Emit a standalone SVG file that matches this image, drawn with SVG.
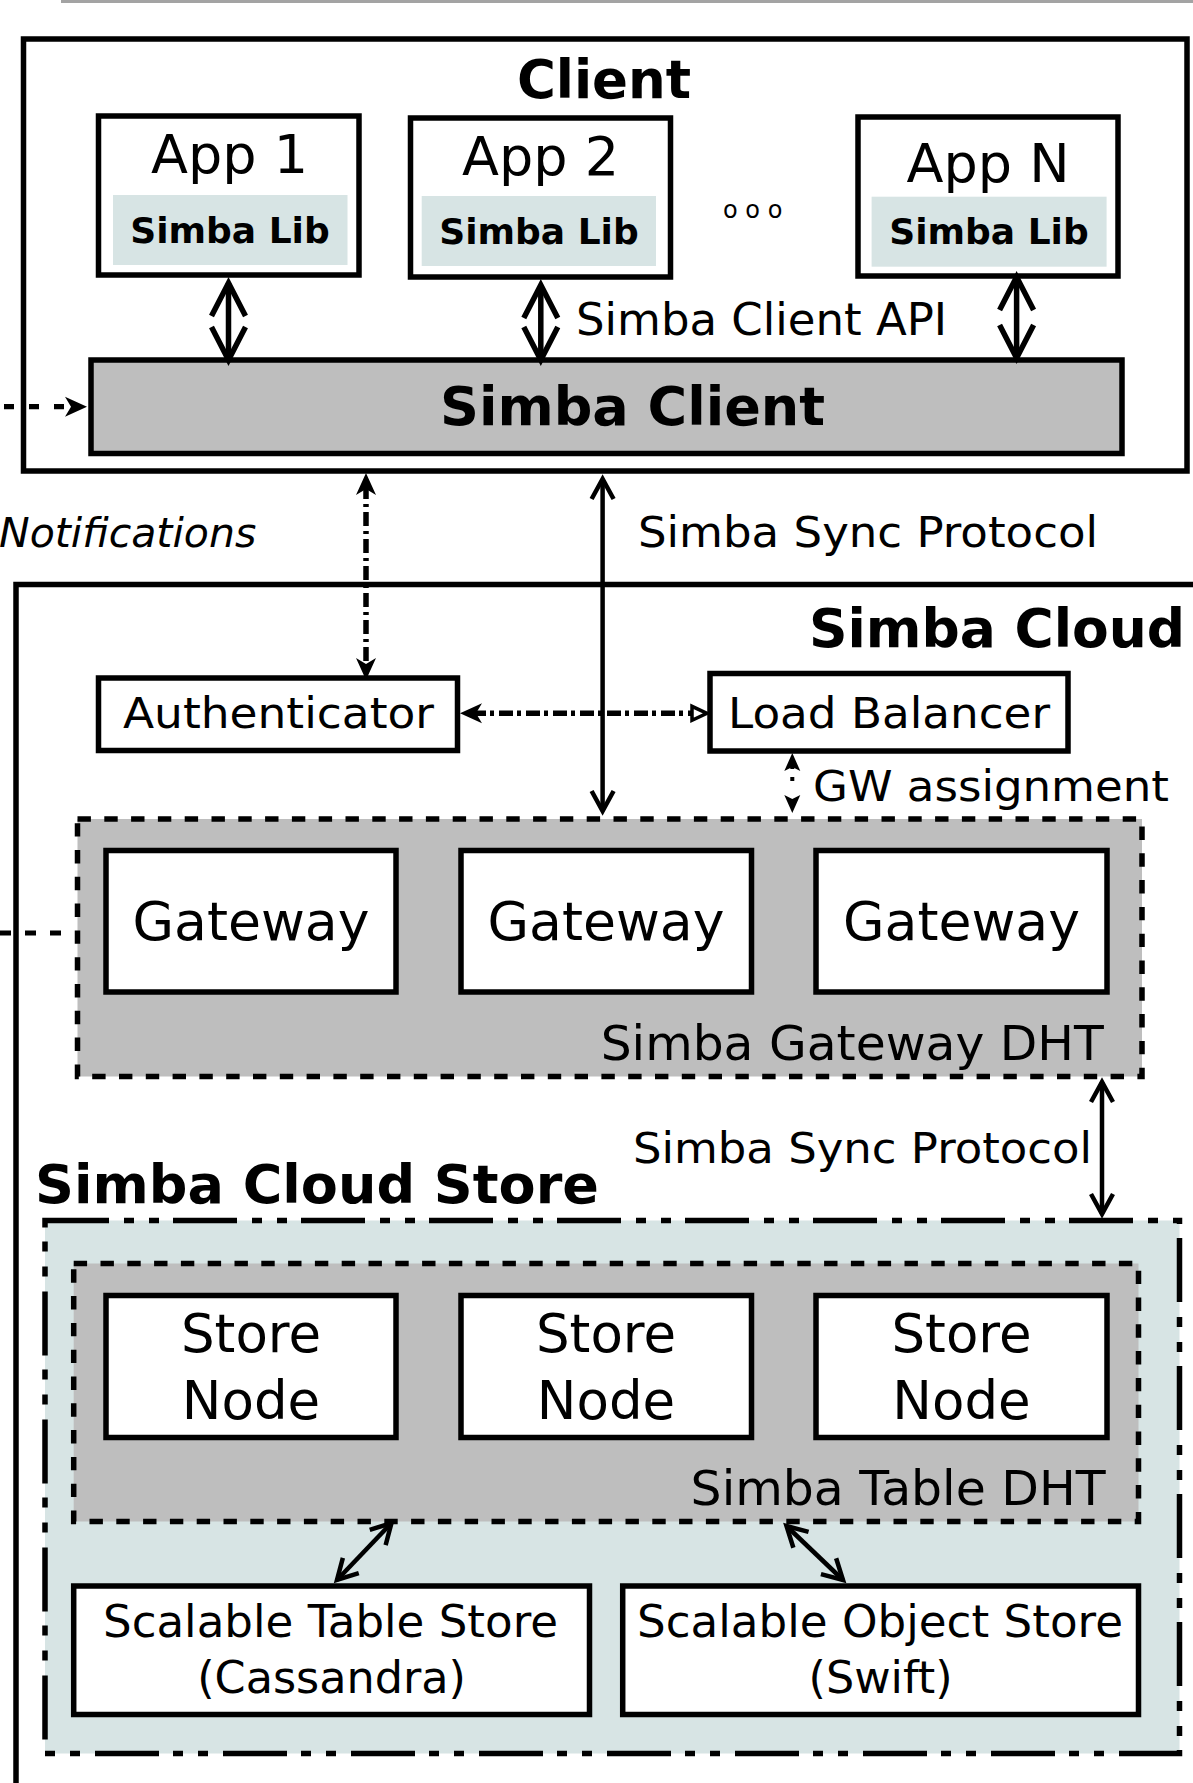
<svg xmlns="http://www.w3.org/2000/svg" width="1193" height="1783" viewBox="0 0 1193 1783">
<style>
.box{fill:#fff;stroke:#000;stroke-width:5.5}
.gbox{fill:#bebebe;stroke:#000;stroke-width:5.5}
.lib{fill:#d7e4e4}
.dht{fill:#bebebe;stroke:#000;stroke-width:5.5;stroke-dasharray:13.4,13.4}
.store{fill:#d7e4e4;stroke:#000;stroke-width:5.5;stroke-dasharray:64,15,10,15,10,14}
text{font-family:"DejaVu Sans","Liberation Sans",sans-serif;fill:#000}
.b{font-weight:bold}
.c{text-anchor:middle}
.ln{fill:none;stroke:#000}
</style>
<defs>
<marker id="chevL" markerUnits="userSpaceOnUse" orient="auto-start-reverse" overflow="visible" refX="0" refY="0" markerWidth="1" markerHeight="1">
<path d="M-33,-17 L0,0 L-33,17" fill="none" stroke="#000" stroke-width="5.5" stroke-dasharray="none"/>
</marker>
<marker id="chevS" markerUnits="userSpaceOnUse" orient="auto-start-reverse" overflow="visible" refX="0" refY="0" markerWidth="1" markerHeight="1">
<path d="M-20,-11 L0,0 L-20,11" fill="none" stroke="#000" stroke-width="4.5" stroke-dasharray="none"/>
</marker>
<marker id="arrF" markerUnits="userSpaceOnUse" orient="auto-start-reverse" overflow="visible" refX="0" refY="0" markerWidth="1" markerHeight="1">
<path d="M12,0 L-10,-10 L-4,0 L-10,10 Z" fill="#000" stroke="none"/>
</marker>
<marker id="arrO" markerUnits="userSpaceOnUse" orient="auto-start-reverse" overflow="visible" refX="0" refY="0" markerWidth="1" markerHeight="1">
<path d="M9,0 L-6,-7 L-6,7 Z" fill="#fff" stroke="#000" stroke-width="3.5" stroke-dasharray="none"/>
</marker>
<marker id="arrS" markerUnits="userSpaceOnUse" orient="auto-start-reverse" overflow="visible" refX="0" refY="0" markerWidth="1" markerHeight="1">
<path d="M9,0 L-9,-8 L-5,0 L-9,8 Z" fill="#000" stroke="none"/>
</marker>
</defs>
<rect x="0" y="0" width="1193" height="1783" fill="#fff"/>
<rect x="61" y="0" width="1132" height="3" fill="#a3a3a3"/>

<g id="client">
<rect class="box" x="23.5" y="39" width="1163.5" height="432"/>
<text class="b c" x="604" y="98" font-size="53">Client</text>
<text x="723" y="218" font-size="24">o o o</text>
</g>
<g id="app1">
<rect class="box" x="98.5" y="116" width="260.5" height="159"/>
<text class="c" x="229.6" y="173" font-size="54">App 1</text>
<rect class="lib" x="113" y="195" width="234.5" height="70"/>
<text class="b c" x="230" y="243" font-size="36">Simba Lib</text>
</g>
<g id="app2">
<rect class="box" x="410.5" y="118" width="260" height="159"/>
<text class="c" x="540.5" y="175" font-size="54">App 2</text>
<rect class="lib" x="421.7" y="196" width="234.3" height="70"/>
<text class="b c" x="539" y="243.5" font-size="36">Simba Lib</text>
</g>
<g id="appN">
<rect class="box" x="858" y="117" width="260" height="159"/>
<text class="c" x="988" y="182" font-size="54">App N</text>
<rect class="lib" x="871.6" y="196.7" width="235" height="70"/>
<text class="b c" x="989" y="243.5" font-size="36">Simba Lib</text>
</g>
<g id="simba-client">
<rect class="gbox" x="91" y="360" width="1031" height="93.5"/>
<text class="b" x="440" y="425" font-size="54">Simba Client</text>
</g>

<g id="simba-cloud">
<rect class="box" x="16" y="584.5" width="1300" height="1300"/>
<text class="b" x="809" y="647" font-size="53" textLength="376" lengthAdjust="spacingAndGlyphs">Simba Cloud</text>
</g>
<g id="authenticator">
<rect class="box" x="98.5" y="678" width="359" height="72.5"/>
<text class="c" x="278.5" y="728" font-size="43" textLength="311" lengthAdjust="spacingAndGlyphs">Authenticator</text>
</g>
<g id="load-balancer">
<rect class="box" x="710" y="673.5" width="358" height="77.5"/>
<text class="c" x="889" y="728" font-size="43" textLength="322" lengthAdjust="spacingAndGlyphs">Load Balancer</text>
</g>
<g id="gateway-dht">
<rect class="dht" x="77.5" y="819" width="1064.5" height="257.5"/>
<text x="600.7" y="1060" font-size="47.5" textLength="503" lengthAdjust="spacingAndGlyphs">Simba Gateway DHT</text>
</g>
<g id="gateway1">
<rect class="box" x="106" y="850.5" width="290" height="141.5"/>
<text class="c" x="251" y="940" font-size="53" textLength="237" lengthAdjust="spacingAndGlyphs">Gateway</text>
</g>
<g id="gateway2">
<rect class="box" x="461" y="850.5" width="290.5" height="141.5"/>
<text class="c" x="606" y="940" font-size="53" textLength="237" lengthAdjust="spacingAndGlyphs">Gateway</text>
</g>
<g id="gateway3">
<rect class="box" x="816" y="850.5" width="291" height="141.5"/>
<text class="c" x="961.5" y="940" font-size="53" textLength="237" lengthAdjust="spacingAndGlyphs">Gateway</text>
</g>

<g id="cloud-store">
<text class="b" x="35" y="1203" font-size="54" textLength="564" lengthAdjust="spacingAndGlyphs">Simba Cloud Store</text>
<rect class="store" x="45" y="1220.5" width="1134.5" height="533"/>
</g>
<g id="table-dht">
<rect class="dht" x="73.7" y="1263.5" width="1064.8" height="258"/>
<text x="690.6" y="1505" font-size="47.5" textLength="415" lengthAdjust="spacingAndGlyphs">Simba Table DHT</text>
</g>
<g id="store1">
<rect class="box" x="106" y="1295.5" width="290" height="142"/>
<text class="c" x="251" y="1352" font-size="53">Store</text>
<text class="c" x="251" y="1419" font-size="53">Node</text>
</g>
<g id="store2">
<rect class="box" x="461" y="1295.5" width="290.5" height="142"/>
<text class="c" x="606" y="1352" font-size="53">Store</text>
<text class="c" x="606" y="1419" font-size="53">Node</text>
</g>
<g id="store3">
<rect class="box" x="816" y="1295.5" width="291" height="142"/>
<text class="c" x="961.5" y="1352" font-size="53">Store</text>
<text class="c" x="961.5" y="1419" font-size="53">Node</text>
</g>
<g id="table-store">
<rect class="box" x="73.7" y="1586" width="515.8" height="128.5"/>
<text class="c" x="330.5" y="1637" font-size="44.5" textLength="455" lengthAdjust="spacingAndGlyphs">Scalable Table Store</text>
<text class="c" x="331.6" y="1693" font-size="44.5">(Cassandra)</text>
</g>
<g id="object-store">
<rect class="box" x="622.7" y="1586" width="515.8" height="128.5"/>
<text class="c" x="880" y="1637" font-size="44.5" textLength="486" lengthAdjust="spacingAndGlyphs">Scalable Object Store</text>
<text class="c" x="880.6" y="1693" font-size="44.5">(Swift)</text>
</g>

<g id="connectors">
<line class="ln" x1="228.5" y1="283" x2="228.5" y2="360" stroke-width="5.5" marker-start="url(#chevL)" marker-end="url(#chevL)"/>
<line class="ln" x1="540.8" y1="285" x2="540.8" y2="360" stroke-width="5.5" marker-start="url(#chevL)" marker-end="url(#chevL)"/>
<line class="ln" x1="1016.6" y1="277" x2="1016.6" y2="358" stroke-width="5.5" marker-start="url(#chevL)" marker-end="url(#chevL)"/>
<text x="576" y="335" font-size="45">Simba Client API</text>

<line class="ln" x1="4" y1="406.7" x2="75" y2="406.7" stroke-width="5.3" stroke-dasharray="10,15" marker-end="url(#arrF)"/>
<line class="ln" x1="366" y1="485" x2="366" y2="668" stroke-width="5.5" stroke-dasharray="14,5,3,5" marker-start="url(#arrF)" marker-end="url(#arrF)"/>
<text x="-1" y="547" font-size="41" font-style="italic">Notifications</text>

<line class="ln" x1="602.6" y1="479" x2="602.6" y2="811" stroke-width="4.5" marker-start="url(#chevS)" marker-end="url(#chevS)"/>
<text x="638" y="547" font-size="43" textLength="460" lengthAdjust="spacingAndGlyphs">Simba Sync Protocol</text>

<line class="ln" x1="472" y1="713.3" x2="698" y2="713.3" stroke-width="5.5" stroke-dasharray="14,4,4,5" marker-start="url(#arrF)" marker-end="url(#arrO)"/>

<line class="ln" x1="792.3" y1="762" x2="792.3" y2="804" stroke-width="4" stroke-dasharray="7,8,4,100" marker-start="url(#arrS)" marker-end="url(#arrS)"/>
<text x="813" y="801" font-size="42" textLength="356" lengthAdjust="spacingAndGlyphs">GW assignment</text>

<line class="ln" x1="0" y1="933" x2="72" y2="933" stroke-width="5" stroke-dasharray="11,14"/>

<line class="ln" x1="1102" y1="1082" x2="1102" y2="1214" stroke-width="4.5" marker-start="url(#chevS)" marker-end="url(#chevS)"/>
<text x="633" y="1163" font-size="43" textLength="459" lengthAdjust="spacingAndGlyphs">Simba Sync Protocol</text>

<line class="ln" x1="391.5" y1="1523" x2="337" y2="1580" stroke-width="4.5" marker-start="url(#chevS)" marker-end="url(#chevS)"/>
<line class="ln" x1="786.5" y1="1526" x2="843" y2="1580" stroke-width="4.5" marker-start="url(#chevS)" marker-end="url(#chevS)"/>
</g>
</svg>
